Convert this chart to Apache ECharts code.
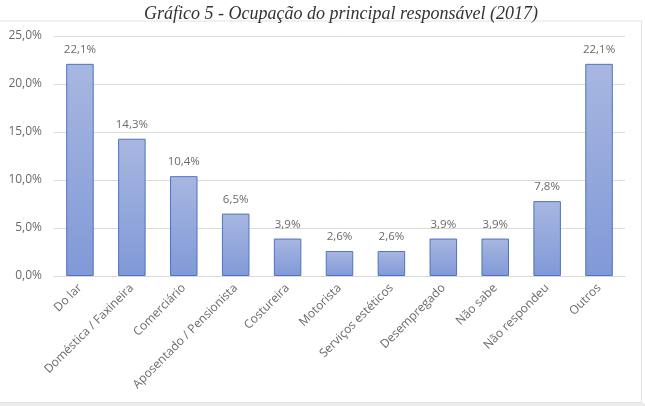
<!DOCTYPE html>
<html>
<head>
<meta charset="utf-8">
<script src="https://cdn.jsdelivr.net/npm/echarts@6/dist/echarts.min.js"></script>
<style>
  html, body { margin: 0; padding: 0; background: #fff; }
  #chart { width: 645px; height: 406px; }
</style>
</head>
<body>
<div id="chart"></div>
<script>
let categories = ['Do lar', 'Doméstica / Faxineira', 'Comerciário', 'Aposentado / Pensionista',
  'Costureira', 'Motorista', 'Serviços estéticos', 'Desempregado', 'Não sabe', 'Não respondeu', 'Outros'];
let values = [22.1, 14.3, 10.4, 6.5, 3.9, 2.6, 2.6, 3.9, 3.9, 7.8, 22.1];
let yTicks = [0, 5, 10, 15, 20, 25];

function fmt(v) {
  return v.toFixed(1).replace('.', ',') + '%';
}

let myChart = echarts.init(document.getElementById('chart'));
let option = {
  animation: false,
  backgroundColor: '#fff',
  title: {
    text: 'Gráfico 5 - Ocupação do principal responsável (2017)',
    left: 336,
    textAlign: 'center',
    top: 0,
    textStyle: {
      fontFamily: 'Liberation Serif',
      fontStyle: 'italic',
      fontWeight: 'normal',
      fontSize: 18,
      color: '#333'
    }
  },
  graphic: [{
    type: 'rect',
    shape: { x: -1, y: 21, width: 642.5, height: 381.5 },
    style: { fill: 'none', stroke: '#e2e2e2', lineWidth: 1 },
    silent: true
  }, {
    type: 'rect',
    shape: { x: 0, y: 403, width: 645, height: 3 },
    style: { fill: '#ececec' },
    silent: true
  }],
  grid: { left: 54, right: 20, top: 36, bottom: 130 },
  xAxis: {
    type: 'category',
    data: categories,
    axisTick: { show: false },
    axisLine: { lineStyle: { color: '#d9d9d9' } },
    axisLabel: {
      interval: 0,
      rotate: 45,
      color: '#6a6a6a',
      fontFamily: 'Open Sans',
      fontSize: 12,
      margin: 10
    }
  },
  yAxis: {
    type: 'value',
    min: 0,
    max: yTicks[yTicks.length - 1],
    interval: 5,
    axisLine: { show: false },
    axisTick: { show: false },
    splitLine: { lineStyle: { color: '#d9d9d9' } },
    axisLabel: {
      color: '#6a6a6a',
      fontFamily: 'Open Sans',
      fontSize: 12,
      margin: 12,
      formatter: fmt
    }
  },
  series: [{
    type: 'bar',
    data: values,
    barWidth: '53%',
    itemStyle: {
      color: new echarts.graphic.LinearGradient(0, 0, 0, 1, [
        { offset: 0, color: '#a8b7e1' },
        { offset: 1, color: '#8099d7' }
      ]),
      borderColor: '#4f72c4',
      borderWidth: 1
    },
    label: {
      show: true,
      position: 'top',
      distance: 8,
      color: '#6a6a6a',
      fontFamily: 'Open Sans',
      fontSize: 11.5,
      formatter: function (p) { return fmt(p.value); }
    }
  }]
};
myChart.setOption(option);
</script>
</body>
</html>
